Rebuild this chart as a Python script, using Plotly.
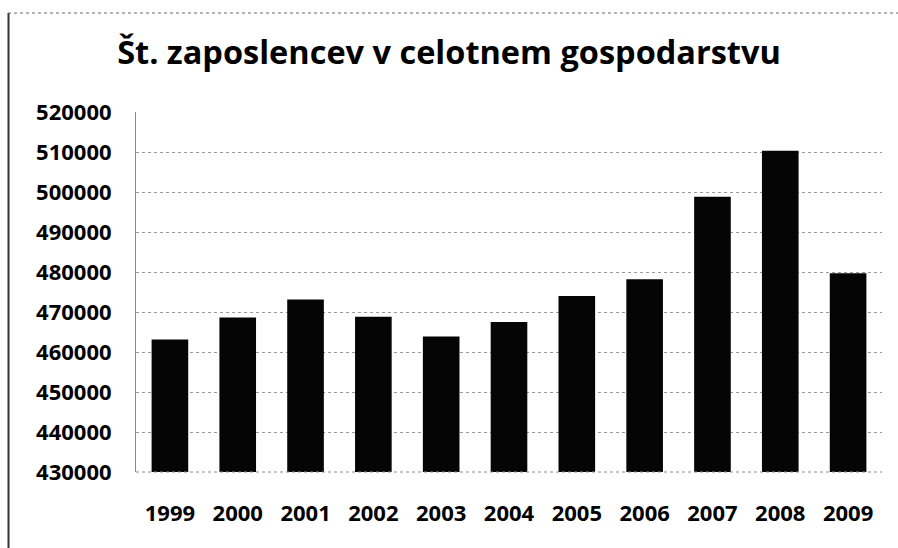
import plotly.graph_objects as go

years = ["1999", "2000", "2001", "2002", "2003", "2004", "2005", "2006", "2007", "2008", "2009"]
employees = [463100, 468600, 473100, 468800, 463900, 467500, 474000, 478200, 498800, 510300, 479700]
y_ticks = [430000, 440000, 450000, 460000, 470000, 480000, 490000, 500000, 510000, 520000]

title_text = "Št. zaposlencev v celotnem gospodarstvu"

W, H = 898, 548
L, R, T, B = 136, 16, 112, 76
pw, ph = W - L - R, H - T - B

def px_x(p):
    return (p - L) / pw

def px_y(p):
    return (H - B - p) / ph

fig = go.Figure(go.Bar(
    x=years, y=employees,
    marker=dict(color="#050505", line=dict(width=0)),
))

fig.update_layout(
    width=W, height=H,
    margin=dict(l=L, r=R, t=T, b=B),
    paper_bgcolor="white", plot_bgcolor="white",
    bargap=0.46,
    showlegend=False,
    font=dict(family="Open Sans", color="black"),
    title=dict(
        text=title_text,
        font=dict(family="Open Sans", size=32.5, color="black", weight="bold"),
        x=0.5, xref="container", xanchor="center",
        y=1 - 53 / H, yref="container", yanchor="middle",
    ),
)

fig.update_yaxes(
    range=[430000, 520000],
    tickvals=y_ticks,
    ticktext=[str(v) for v in y_ticks],
    tickfont=dict(family="Open Sans", size=22, color="black", weight="bold"),
    showgrid=True, gridcolor="#9a9a9a", griddash="dot", gridwidth=1,
    showline=True, linecolor="#8a8a8a", linewidth=1,
    zeroline=False, ticks="", ticklabelstandoff=19,
)
fig.update_xaxes(
    tickfont=dict(family="Open Sans", size=22, color="black", weight="bold"),
    showline=False, ticks="", ticklabelstandoff=26,
)
# bottom dotted axis line
fig.add_shape(type="line", xref="paper", yref="paper", x0=0, x1=1, y0=0, y1=0,
              line=dict(color="#8a8a8a", width=1, dash="dot"))
# scanned frame: left solid line and top dashed line
fig.add_shape(type="line", xref="paper", yref="paper",
              x0=px_x(8.5), x1=px_x(8.5), y0=px_y(13), y1=px_y(548),
              line=dict(color="#333333", width=2))
fig.add_shape(type="line", xref="paper", yref="paper",
              x0=px_x(8), x1=px_x(898), y0=px_y(13), y1=px_y(13),
              line=dict(color="#666666", width=1, dash="dot"))

fig.write_html("out.html", config={"displayModeBar": False},
               post_script="document.body.style.margin='0';")
